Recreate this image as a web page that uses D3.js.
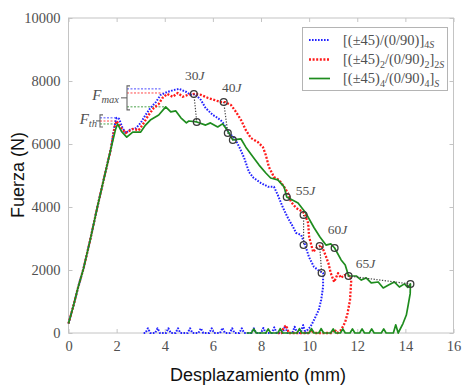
<!DOCTYPE html>
<html><head><meta charset="utf-8">
<script src="https://cdn.jsdelivr.net/npm/d3@7"></script>
<style>body{margin:0;background:#fff}svg{display:block}</style>
</head><body>
<svg id="chart" width="474" height="391"></svg>
<script>
// ---------------- data ----------------
const xTicks = [0, 2, 4, 6, 8, 10, 12, 14, 16];
const yTicks = [0, 2000, 4000, 6000, 8000, 10000];

// [(±45)/(0/90)]4S  (blue)
const blueSeries = [[0,300],[0.2,850],[0.4,1450],[0.625,2050],[0.9,2950],[1.2,4000],[1.46,4860],[1.75,5810],[1.92,6600],[2.0,6830],[2.1,6800],[2.25,6500],[2.38,6350],[2.55,6450],[2.8,6500],[3.0,6670],[3.2,6920],[3.4,7140],[3.63,7330],[3.83,7560],[4.1,7650],[4.38,7715],[4.6,7750],[4.9,7650],[5.08,7560],[5.25,7590],[5.5,7400],[5.7,7140],[6.0,6920],[6.2,6830],[6.4,6700],[6.67,6350],[6.9,6190],[7.1,5900],[7.3,5560],[7.5,5110],[7.7,4920],[8.0,4760],[8.3,4640],[8.54,4640],[8.7,4380],[8.9,4000],[9.1,3680],[9.33,3370],[9.46,3175],[9.67,3110],[9.83,2800],[10.0,2400],[10.2,2100],[10.37,2000],[10.58,1900],
  [10.58,1460],[10.5,1050],[10.4,730],[10.2,410],[10.05,190],[9.95,120],[9.85,0],[9.75,250],[9.65,0],[9.5,0],[9.4,200],[9.3,0],[9.1,0],[9.0,220],[8.9,0],[8.65,0],[8.55,180],[8.45,0],[8.2,0],[8.1,160],[8.0,0],[7.8,0],[7.7,150],[7.6,0],[7.3,0],[7.2,150],[7.1,0],[6.9,0],[6.8,150],[6.7,0],[6.5,0],[6.4,160],[6.3,0],[6.05,0],[5.95,150],[5.85,0],[5.6,0],[5.5,150],[5.4,0],[5.15,0],[5.05,150],[4.95,0],[4.65,0],[4.55,150],[4.45,0],[4.25,0],[4.15,150],[4.05,0],[3.8,0],[3.7,150],[3.6,0],[3.4,0],[3.3,150],[3.2,0],[3.1,0]];

// [(±45)2/(0/90)2]2S  (red)
const redSeries = [[0,300],[0.2,850],[0.4,1450],[0.625,2050],[0.9,2950],[1.2,4000],[1.46,4860],[1.75,5810],[1.92,6550],[2.0,6730],[2.2,6500],[2.38,6350],[2.67,6480],[2.92,6440],[3.13,6670],[3.33,6920],[3.54,7140],[3.75,7270],[3.9,7460],[4.1,7590],[4.33,7500],[4.54,7620],[4.75,7500],[4.96,7560],[5.25,7590],[5.5,7560],[5.8,7460],[6.05,7400],[6.33,7330],[6.5,7330],[6.75,7240],[6.96,7020],[7.17,6760],[7.37,6440],[7.58,6190],[7.87,6060],[8.08,5900],[8.2,5650],[8.33,5270],[8.54,4950],[8.75,4860],[8.96,4640],[9.12,4440],[9.25,4160],[9.46,3970],[9.75,3840],[9.83,3750],[9.96,3490],[10.0,3050],[10.17,2570],[10.3,2700],[10.5,2790],[10.63,2570],[10.8,2220],[10.9,1900],[11.04,1620],[11.2,1900],[11.33,1750],[11.46,1840],[11.7,1810],
  [11.75,1680],[11.7,1050],[11.6,635],[11.5,350],[11.33,95],[11.17,0],[11.05,110],[10.95,0],[10.2,0],[10.1,90],[10.0,0],[9.15,0],[9.05,240],[8.95,180],[8.85,0],[8.7,0]];

// [(±45)4/(0/90)4]S  (green)
const greenSeries = [[0,300],[0.2,850],[0.4,1450],[0.625,2050],[0.9,2950],[1.2,4000],[1.46,4860],[1.75,5810],[1.95,6450],[2.04,6636],[2.2,6400],[2.42,6220],[2.67,6380],[3.0,6380],[3.2,6600],[3.4,6760],[3.75,6920],[4.04,7180],[4.25,7020],[4.46,7050],[4.67,6830],[4.9,6670],[5.0,6730],[5.33,6700],[5.7,6600],[5.9,6670],[6.2,6540],[6.4,6640],[6.6,6440],[6.83,6128],[7.17,6160],[7.37,5900],[7.67,5590],[7.92,5330],[8.2,5080],[8.4,4920],[8.7,4860],[8.96,4640],[9.07,4318],[9.54,4130],[9.87,3800],[10.2,3350],[10.45,3050],[10.7,2790],[10.9,2830],[11.06,2699],[11.33,2320],[11.5,2160],[11.64,1810],[11.96,1810],[12.17,1680],[12.37,1750],[12.58,1590],[12.87,1620],[13.08,1430],[13.3,1520],[13.54,1620],[13.75,1460],[13.96,1560],[14.1,1450],[14.21,1556],
  [14.2,1250],[14.12,900],[14.04,570],[13.9,300],[13.7,0],[13.6,260],[13.5,0],[13.2,0],[13.1,130],[13.0,0],[12.7,0],[12.6,130],[12.5,0],[12.3,0],[12.2,130],[12.1,0],[11.9,0],[11.8,130],[11.7,0],[11.5,0],[11.4,130],[11.3,0],[11.1,0],[11.0,130],[10.9,0],[10.6,0],[10.5,140],[10.4,0],[10.2,0],[10.1,140],[10.0,0],[9.7,0],[9.6,140],[9.5,0],[8.9,0],[8.8,140],[8.7,0],[8.4,0],[8.3,130],[8.2,0],[7.8,0],[7.7,130],[7.6,0],[7.4,0]];

const seriesNames = ["blue", "red", "green"];
const fthLevels = [6830, 6730, 6636];
const fmaxLevels = [7750, 7620, 7180];

// energy markers (mm, N)
const energyLabels = ["30", "40", "55", "60", "65"];
const energyLabelAt = [[5.25,8190],[6.78,7780],[9.85,4510],[11.18,3270],[12.34,2220]];
const markerPoints = [[5.21,7588],[5.33,6700],[6.45,7334],[6.62,6350],[6.83,6128],[9.07,4318],[9.77,3747],[9.77,2794],[11.06,2699],[10.44,2762],[10.52,1905],[11.64,1810],[14.21,1556]];
const markerLinks = [
  [[5.21,7588],[5.33,6700]],
  [[6.45,7334],[6.62,6350],[6.83,6128]],
  [[9.77,3747],[9.77,2794]],
  [[10.44,2762],[10.52,1905]],
  [[11.64,1810],[14.21,1556]]
];

// ---------------- drawing ----------------
const svg = d3.select("#chart");
const L = 68.5, R = 453.5, T = 18, B = 333;
const x = d3.scaleLinear().domain([0, 16]).range([L, R]);
const y = d3.scaleLinear().domain([0, 10000]).range([B, T]);
const serif = "'Liberation Serif', 'DejaVu Serif', serif";
const sans = "'Liberation Sans', Arial, sans-serif";
const txtGrey = "#505050";
const frameGrey = "#c4c4c4";

const styles = {
  blue: {stroke: "#2222ff", width: 2.0, dash: "1.6,1.4"},
  red: {stroke: "#ff1a1a", width: 2.3, dash: "2,1.6"},
  green: {stroke: "#1e8c1e", width: 1.7, dash: null}
};

// frame
svg.append("rect").attr("x", L).attr("y", T).attr("width", R - L).attr("height", B - T)
  .attr("fill", "none").attr("stroke", frameGrey).attr("stroke-width", 1);

function styleAxis(g) {
  g.select(".domain").remove();
  g.selectAll(".tick line").attr("stroke", frameGrey);
  g.selectAll(".tick text").attr("fill", txtGrey).style("font-family", serif).style("font-size", "14.5px");
}
svg.append("g").attr("transform", `translate(0,${B})`)
  .call(d3.axisBottom(x).tickValues(xTicks).tickFormat(d3.format("d")).tickSize(-4).tickPadding(8))
  .call(styleAxis);
svg.append("g").attr("transform", `translate(${L},0)`)
  .call(d3.axisLeft(y).tickValues(yTicks).tickFormat(d3.format("d")).tickSize(-4).tickPadding(8))
  .call(styleAxis);
svg.append("g").attr("transform", `translate(0,${T})`)
  .call(d3.axisTop(x).tickValues(xTicks).tickFormat("").tickSize(-4)).call(styleAxis);
svg.append("g").attr("transform", `translate(${R},0)`)
  .call(d3.axisRight(y).tickValues(yTicks).tickFormat("").tickSize(-4)).call(styleAxis);

// axis titles
svg.append("text").attr("x", 258).attr("y", 381).attr("text-anchor", "middle")
  .style("font-family", sans).style("font-size", "18px").attr("fill", "#111").text("Desplazamiento (mm)");
svg.append("text").attr("transform", "translate(24,175) rotate(-90)").attr("text-anchor", "middle")
  .style("font-family", sans).style("font-size", "18px").attr("fill", "#111").text("Fuerza (N)");

// F_th / F_max annotation guides
const allSeries = [blueSeries, redSeries, greenSeries];
const line = d3.line().x(d => x(d[0])).y(d => y(d[1]));
const fthBracketX = 100, fmaxBracketX = 127;
fthLevels.forEach((lv, i) => {
  const peak = allSeries[i].slice(0, 12).reduce((a, b) => b[1] > a[1] ? b : a);
  svg.append("line").attr("x1", fthBracketX).attr("x2", x(peak[0]))
    .attr("y1", y(lv)).attr("y2", y(lv)).attr("stroke", styles[seriesNames[i]].stroke)
    .attr("stroke-width", 1).attr("stroke-dasharray", "2,1.5").attr("opacity", 0.8);
});
fmaxLevels.forEach((lv, i) => {
  const hit = allSeries[i].find(d => d[0] > 3 && d[1] >= lv - 200);
  svg.append("line").attr("x1", fmaxBracketX).attr("x2", x(hit[0]))
    .attr("y1", y(lv)).attr("y2", y(lv)).attr("stroke", styles[seriesNames[i]].stroke)
    .attr("stroke-width", 1).attr("stroke-dasharray", "2,1.5").attr("opacity", 0.8);
});
function bracket(bx, top, bot, dashFrom) {
  svg.append("path").attr("d", `M${bx + 3},${top} L${bx},${top} L${bx},${bot} L${bx + 3},${bot}`)
    .attr("fill", "none").attr("stroke", "#666").attr("stroke-width", 1.1);
  const mid = (top + bot) / 2;
  svg.append("line").attr("x1", dashFrom).attr("x2", bx).attr("y1", mid).attr("y2", mid)
    .attr("stroke", "#666").attr("stroke-width", 1.1);
}
bracket(fthBracketX, y(fthLevels[0]) - 3, y(fthLevels[2]) + 3, fthBracketX - 4);
bracket(fmaxBracketX, y(fmaxLevels[0]) - 3, y(fmaxLevels[2]) + 3, fmaxBracketX - 6);

function fLabel(xEnd, yb, sub) {
  const t = svg.append("text").attr("x", xEnd).attr("y", yb).attr("text-anchor", "end")
    .style("font-family", serif).attr("fill", txtGrey);
  t.append("tspan").style("font-style", "italic").style("font-size", "15px").text("F");
  t.append("tspan").style("font-style", "italic").style("font-size", "10.5px").attr("dy", 3).text(sub);
}
fLabel(97, 124, "th");
fLabel(119, 100, "max");

// series lines
seriesNames.forEach((name, i) => {
  const st = styles[name];
  const p = svg.append("path").datum(allSeries[i]).attr("d", line)
    .attr("fill", "none").attr("stroke", st.stroke).attr("stroke-width", st.width)
    .attr("stroke-linejoin", "round");
  if (st.dash) p.attr("stroke-dasharray", st.dash);
});

// energy marker links + circles
markerLinks.forEach(pts => {
  svg.append("path").datum(pts).attr("d", line).attr("fill", "none")
    .attr("stroke", "#444").attr("stroke-width", 1.2).attr("stroke-dasharray", "1.3,1.5");
});
svg.selectAll("circle.m").data(markerPoints).join("circle").attr("class", "m")
  .attr("cx", d => x(d[0])).attr("cy", d => y(d[1])).attr("r", 3.4)
  .attr("fill", "none").attr("stroke", "#3a3a3a").attr("stroke-width", 1.3);

energyLabels.forEach((lab, i) => {
  const p = energyLabelAt[i];
  const t = svg.append("text").attr("x", x(p[0])).attr("y", y(p[1]) + 4.5).attr("text-anchor", "middle")
    .style("font-family", serif).style("font-size", "13.5px").attr("fill", txtGrey);
  t.append("tspan").text(lab);
  t.append("tspan").style("font-style", "italic").text("J");
});

// legend
const lg = svg.append("g");
lg.append("rect").attr("x", 302.5).attr("y", 27.5).attr("width", 145).attr("height", 63)
  .attr("fill", "#fff").attr("stroke", "#b4b4b4").attr("stroke-width", 1);
const legendRows = [
  [["[(±45)/(0/90)]", 0], ["4", 1], ["S", 2]],
  [["[(±45)", 0], ["2", 1], ["/(0/90)", 0], ["2", 1], ["]", 0], ["2", 1], ["S", 2]],
  [["[(±45)", 0], ["4", 1], ["/(0/90)", 0], ["4", 1], ["]", 0], ["S", 2]]
];
const rowY = [40, 59.5, 78.5];
seriesNames.forEach((name, i) => {
  const st = styles[name];
  const l = lg.append("line").attr("x1", 309).attr("x2", 330).attr("y1", rowY[i]).attr("y2", rowY[i])
    .attr("stroke", st.stroke).attr("stroke-width", st.width);
  if (st.dash) l.attr("stroke-dasharray", st.dash);
  const t = lg.append("text").attr("x", 343).attr("y", rowY[i] + 4.5)
    .style("font-family", serif).style("font-size", "14.5px").attr("fill", txtGrey);
  let inSub = false;
  legendRows[i].forEach(([s, kind]) => {
    const ts = t.append("tspan").text(s);
    if (kind === 0) {
      if (inSub) { ts.attr("dy", -3.5); inSub = false; }
    } else {
      ts.style("font-size", "10px");
      if (!inSub) { ts.attr("dy", 3.5); inSub = true; }
      if (kind === 2) ts.style("font-style", "italic");
    }
  });
});
</script>
</body></html>
